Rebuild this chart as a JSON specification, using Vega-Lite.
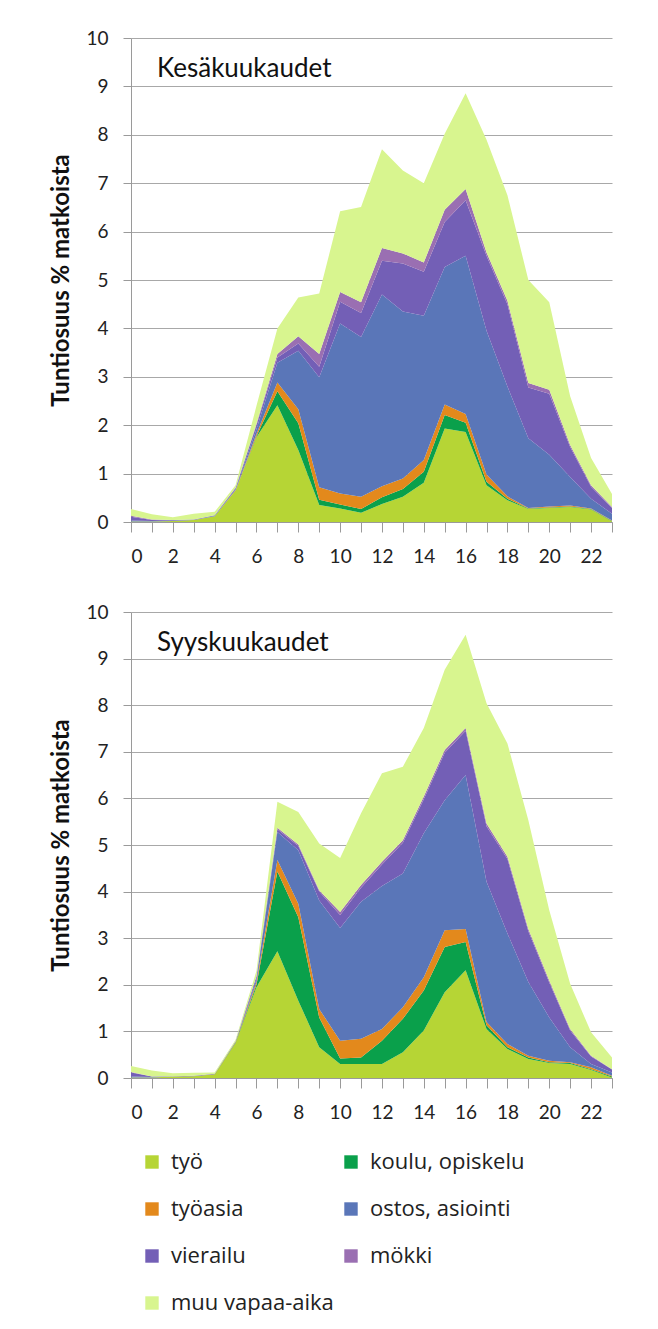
{
  "$schema": "https://vega.github.io/schema/vega-lite/v6.json",
  "background": "white",
  "padding": {"left": 49, "top": 29, "right": 0, "bottom": 40},
  "config": {
    "font": "Lato",
    "view": {"stroke": null},
    "axis": {
      "labelFont": "Lato",
      "labelFontSize": 19,
      "labelColor": "#222",
      "domainColor": "#9a9a9a",
      "tickColor": "#9a9a9a",
      "gridColor": "#a8a8a8",
      "titleFont": "Lato",
      "titleFontSize": 24,
      "titleFontWeight": "bold",
      "titleColor": "#111"
    },
    "title": {"font": "Lato", "fontSize": 26, "fontWeight": "normal", "color": "#111"},
    "legend": {
      "labelFont": "Open Sans",
      "labelFontSize": 22,
      "labelLimit": 300,
      "labelColor": "#222",
      "symbolType": "square",
      "symbolSize": 180,
      "symbolStrokeWidth": 0,
      "symbolOpacity": 1,
      "labelOffset": 8,
      "rowPadding": 25,
      "columnPadding": 6,
      "padding": 0
    }
  },
  "datasets": {
    "cats": [
      {"c":"työ","k":1},{"c":"koulu, opiskelu","k":2},{"c":"työasia","k":3},{"c":"ostos, asiointi","k":4},{"c":"vierailu","k":5},{"c":"mökki","k":6},{"c":"muu vapaa-aika","k":7}
    ],
    "kesa": [
      {"h":0,"c":"työ","v":0.01},{"h":0,"c":"koulu, opiskelu","v":0},{"h":0,"c":"työasia","v":0},{"h":0,"c":"ostos, asiointi","v":0.02},{"h":0,"c":"vierailu","v":0.08},{"h":0,"c":"mökki","v":0.02},{"h":0,"c":"muu vapaa-aika","v":0.14},
      {"h":1,"c":"työ","v":0.01},{"h":1,"c":"koulu, opiskelu","v":0},{"h":1,"c":"työasia","v":0},{"h":1,"c":"ostos, asiointi","v":0.01},{"h":1,"c":"vierailu","v":0.02},{"h":1,"c":"mökki","v":0.01},{"h":1,"c":"muu vapaa-aika","v":0.11},
      {"h":2,"c":"työ","v":0.02},{"h":2,"c":"koulu, opiskelu","v":0},{"h":2,"c":"työasia","v":0},{"h":2,"c":"ostos, asiointi","v":0.01},{"h":2,"c":"vierailu","v":0.01},{"h":2,"c":"mökki","v":0},{"h":2,"c":"muu vapaa-aika","v":0.06},
      {"h":3,"c":"työ","v":0.04},{"h":3,"c":"koulu, opiskelu","v":0},{"h":3,"c":"työasia","v":0},{"h":3,"c":"ostos, asiointi","v":0},{"h":3,"c":"vierailu","v":0.01},{"h":3,"c":"mökki","v":0},{"h":3,"c":"muu vapaa-aika","v":0.12},
      {"h":4,"c":"työ","v":0.12},{"h":4,"c":"koulu, opiskelu","v":0},{"h":4,"c":"työasia","v":0},{"h":4,"c":"ostos, asiointi","v":0.01},{"h":4,"c":"vierailu","v":0.01},{"h":4,"c":"mökki","v":0},{"h":4,"c":"muu vapaa-aika","v":0.07},
      {"h":5,"c":"työ","v":0.65},{"h":5,"c":"koulu, opiskelu","v":0},{"h":5,"c":"työasia","v":0.01},{"h":5,"c":"ostos, asiointi","v":0.02},{"h":5,"c":"vierailu","v":0.02},{"h":5,"c":"mökki","v":0.01},{"h":5,"c":"muu vapaa-aika","v":0.05},
      {"h":6,"c":"työ","v":1.75},{"h":6,"c":"koulu, opiskelu","v":0.02},{"h":6,"c":"työasia","v":0.05},{"h":6,"c":"ostos, asiointi","v":0.1},{"h":6,"c":"vierailu","v":0.08},{"h":6,"c":"mökki","v":0.03},{"h":6,"c":"muu vapaa-aika","v":0.37},
      {"h":7,"c":"työ","v":2.41},{"h":7,"c":"koulu, opiskelu","v":0.29},{"h":7,"c":"työasia","v":0.18},{"h":7,"c":"ostos, asiointi","v":0.41},{"h":7,"c":"vierailu","v":0.11},{"h":7,"c":"mökki","v":0.07},{"h":7,"c":"muu vapaa-aika","v":0.53},
      {"h":8,"c":"työ","v":1.49},{"h":8,"c":"koulu, opiskelu","v":0.55},{"h":8,"c":"työasia","v":0.29},{"h":8,"c":"ostos, asiointi","v":1.21},{"h":8,"c":"vierailu","v":0.15},{"h":8,"c":"mökki","v":0.15},{"h":8,"c":"muu vapaa-aika","v":0.8},
      {"h":9,"c":"työ","v":0.35},{"h":9,"c":"koulu, opiskelu","v":0.11},{"h":9,"c":"työasia","v":0.26},{"h":9,"c":"ostos, asiointi","v":2.27},{"h":9,"c":"vierailu","v":0.22},{"h":9,"c":"mökki","v":0.26},{"h":9,"c":"muu vapaa-aika","v":1.25},
      {"h":10,"c":"työ","v":0.28},{"h":10,"c":"koulu, opiskelu","v":0.08},{"h":10,"c":"työasia","v":0.23},{"h":10,"c":"ostos, asiointi","v":3.51},{"h":10,"c":"vierailu","v":0.45},{"h":10,"c":"mökki","v":0.2},{"h":10,"c":"muu vapaa-aika","v":1.67},
      {"h":11,"c":"työ","v":0.19},{"h":11,"c":"koulu, opiskelu","v":0.08},{"h":11,"c":"työasia","v":0.25},{"h":11,"c":"ostos, asiointi","v":3.3},{"h":11,"c":"vierailu","v":0.5},{"h":11,"c":"mökki","v":0.22},{"h":11,"c":"muu vapaa-aika","v":1.97},
      {"h":12,"c":"työ","v":0.37},{"h":12,"c":"koulu, opiskelu","v":0.14},{"h":12,"c":"työasia","v":0.23},{"h":12,"c":"ostos, asiointi","v":3.96},{"h":12,"c":"vierailu","v":0.7},{"h":12,"c":"mökki","v":0.26},{"h":12,"c":"muu vapaa-aika","v":2.04},
      {"h":13,"c":"työ","v":0.52},{"h":13,"c":"koulu, opiskelu","v":0.16},{"h":13,"c":"työasia","v":0.22},{"h":13,"c":"ostos, asiointi","v":3.45},{"h":13,"c":"vierailu","v":0.99},{"h":13,"c":"mökki","v":0.21},{"h":13,"c":"muu vapaa-aika","v":1.71},
      {"h":14,"c":"työ","v":0.81},{"h":14,"c":"koulu, opiskelu","v":0.23},{"h":14,"c":"työasia","v":0.24},{"h":14,"c":"ostos, asiointi","v":2.98},{"h":14,"c":"vierailu","v":0.91},{"h":14,"c":"mökki","v":0.19},{"h":14,"c":"muu vapaa-aika","v":1.64},
      {"h":15,"c":"työ","v":1.93},{"h":15,"c":"koulu, opiskelu","v":0.28},{"h":15,"c":"työasia","v":0.22},{"h":15,"c":"ostos, asiointi","v":2.84},{"h":15,"c":"vierailu","v":0.93},{"h":15,"c":"mökki","v":0.25},{"h":15,"c":"muu vapaa-aika","v":1.57},
      {"h":16,"c":"työ","v":1.86},{"h":16,"c":"koulu, opiskelu","v":0.19},{"h":16,"c":"työasia","v":0.18},{"h":16,"c":"ostos, asiointi","v":3.27},{"h":16,"c":"vierailu","v":1.15},{"h":16,"c":"mökki","v":0.23},{"h":16,"c":"muu vapaa-aika","v":1.98},
      {"h":17,"c":"työ","v":0.76},{"h":17,"c":"koulu, opiskelu","v":0.07},{"h":17,"c":"työasia","v":0.15},{"h":17,"c":"ostos, asiointi","v":2.97},{"h":17,"c":"vierailu","v":1.55},{"h":17,"c":"mökki","v":0.07},{"h":17,"c":"muu vapaa-aika","v":2.33},
      {"h":18,"c":"työ","v":0.45},{"h":18,"c":"koulu, opiskelu","v":0.03},{"h":18,"c":"työasia","v":0.05},{"h":18,"c":"ostos, asiointi","v":2.27},{"h":18,"c":"vierailu","v":1.7},{"h":18,"c":"mökki","v":0.07},{"h":18,"c":"muu vapaa-aika","v":2.18},
      {"h":19,"c":"työ","v":0.27},{"h":19,"c":"koulu, opiskelu","v":0.01},{"h":19,"c":"työasia","v":0.01},{"h":19,"c":"ostos, asiointi","v":1.44},{"h":19,"c":"vierailu","v":1.05},{"h":19,"c":"mökki","v":0.09},{"h":19,"c":"muu vapaa-aika","v":2.13},
      {"h":20,"c":"työ","v":0.29},{"h":20,"c":"koulu, opiskelu","v":0.01},{"h":20,"c":"työasia","v":0.02},{"h":20,"c":"ostos, asiointi","v":1.07},{"h":20,"c":"vierailu","v":1.26},{"h":20,"c":"mökki","v":0.08},{"h":20,"c":"muu vapaa-aika","v":1.81},
      {"h":21,"c":"työ","v":0.31},{"h":21,"c":"koulu, opiskelu","v":0.01},{"h":21,"c":"työasia","v":0.02},{"h":21,"c":"ostos, asiointi","v":0.59},{"h":21,"c":"vierailu","v":0.62},{"h":21,"c":"mökki","v":0.04},{"h":21,"c":"muu vapaa-aika","v":1.01},
      {"h":22,"c":"työ","v":0.26},{"h":22,"c":"koulu, opiskelu","v":0.01},{"h":22,"c":"työasia","v":0.01},{"h":22,"c":"ostos, asiointi","v":0.2},{"h":22,"c":"vierailu","v":0.25},{"h":22,"c":"mökki","v":0.03},{"h":22,"c":"muu vapaa-aika","v":0.56},
      {"h":23,"c":"työ","v":0.01},{"h":23,"c":"koulu, opiskelu","v":0.01},{"h":23,"c":"työasia","v":0.01},{"h":23,"c":"ostos, asiointi","v":0.14},{"h":23,"c":"vierailu","v":0.12},{"h":23,"c":"mökki","v":0.02},{"h":23,"c":"muu vapaa-aika","v":0.27}
    ],
    "syys": [
      {"h":0,"c":"työ","v":0.01},{"h":0,"c":"koulu, opiskelu","v":0},{"h":0,"c":"työasia","v":0},{"h":0,"c":"ostos, asiointi","v":0.02},{"h":0,"c":"vierailu","v":0.09},{"h":0,"c":"mökki","v":0.01},{"h":0,"c":"muu vapaa-aika","v":0.13},
      {"h":1,"c":"työ","v":0.01},{"h":1,"c":"koulu, opiskelu","v":0},{"h":1,"c":"työasia","v":0},{"h":1,"c":"ostos, asiointi","v":0.01},{"h":1,"c":"vierailu","v":0.01},{"h":1,"c":"mökki","v":0},{"h":1,"c":"muu vapaa-aika","v":0.13},
      {"h":2,"c":"työ","v":0.03},{"h":2,"c":"koulu, opiskelu","v":0},{"h":2,"c":"työasia","v":0},{"h":2,"c":"ostos, asiointi","v":0},{"h":2,"c":"vierailu","v":0.01},{"h":2,"c":"mökki","v":0},{"h":2,"c":"muu vapaa-aika","v":0.06},
      {"h":3,"c":"työ","v":0.04},{"h":3,"c":"koulu, opiskelu","v":0},{"h":3,"c":"työasia","v":0},{"h":3,"c":"ostos, asiointi","v":0},{"h":3,"c":"vierailu","v":0.01},{"h":3,"c":"mökki","v":0},{"h":3,"c":"muu vapaa-aika","v":0.06},
      {"h":4,"c":"työ","v":0.08},{"h":4,"c":"koulu, opiskelu","v":0},{"h":4,"c":"työasia","v":0},{"h":4,"c":"ostos, asiointi","v":0},{"h":4,"c":"vierailu","v":0.01},{"h":4,"c":"mökki","v":0},{"h":4,"c":"muu vapaa-aika","v":0.03},
      {"h":5,"c":"työ","v":0.75},{"h":5,"c":"koulu, opiskelu","v":0.01},{"h":5,"c":"työasia","v":0.01},{"h":5,"c":"ostos, asiointi","v":0.01},{"h":5,"c":"vierailu","v":0.01},{"h":5,"c":"mökki","v":0},{"h":5,"c":"muu vapaa-aika","v":0.03},
      {"h":6,"c":"työ","v":1.95},{"h":6,"c":"koulu, opiskelu","v":0.05},{"h":6,"c":"työasia","v":0.06},{"h":6,"c":"ostos, asiointi","v":0.06},{"h":6,"c":"vierailu","v":0.06},{"h":6,"c":"mökki","v":0.01},{"h":6,"c":"muu vapaa-aika","v":0.11},
      {"h":7,"c":"työ","v":2.72},{"h":7,"c":"koulu, opiskelu","v":1.71},{"h":7,"c":"työasia","v":0.25},{"h":7,"c":"ostos, asiointi","v":0.6},{"h":7,"c":"vierailu","v":0.06},{"h":7,"c":"mökki","v":0.03},{"h":7,"c":"muu vapaa-aika","v":0.56},
      {"h":8,"c":"työ","v":1.66},{"h":8,"c":"koulu, opiskelu","v":1.79},{"h":8,"c":"työasia","v":0.29},{"h":8,"c":"ostos, asiointi","v":1.15},{"h":8,"c":"vierailu","v":0.09},{"h":8,"c":"mökki","v":0.03},{"h":8,"c":"muu vapaa-aika","v":0.7},
      {"h":9,"c":"työ","v":0.66},{"h":9,"c":"koulu, opiskelu","v":0.64},{"h":9,"c":"työasia","v":0.18},{"h":9,"c":"ostos, asiointi","v":2.33},{"h":9,"c":"vierailu","v":0.19},{"h":9,"c":"mökki","v":0.03},{"h":9,"c":"muu vapaa-aika","v":1.0},
      {"h":10,"c":"työ","v":0.3},{"h":10,"c":"koulu, opiskelu","v":0.12},{"h":10,"c":"työasia","v":0.38},{"h":10,"c":"ostos, asiointi","v":2.42},{"h":10,"c":"vierailu","v":0.28},{"h":10,"c":"mökki","v":0.06},{"h":10,"c":"muu vapaa-aika","v":1.16},
      {"h":11,"c":"työ","v":0.3},{"h":11,"c":"koulu, opiskelu","v":0.14},{"h":11,"c":"työasia","v":0.4},{"h":11,"c":"ostos, asiointi","v":2.94},{"h":11,"c":"vierailu","v":0.3},{"h":11,"c":"mökki","v":0.06},{"h":11,"c":"muu vapaa-aika","v":1.54},
      {"h":12,"c":"työ","v":0.3},{"h":12,"c":"koulu, opiskelu","v":0.5},{"h":12,"c":"työasia","v":0.25},{"h":12,"c":"ostos, asiointi","v":3.07},{"h":12,"c":"vierailu","v":0.46},{"h":12,"c":"mökki","v":0.06},{"h":12,"c":"muu vapaa-aika","v":1.9},
      {"h":13,"c":"työ","v":0.55},{"h":13,"c":"koulu, opiskelu","v":0.72},{"h":13,"c":"työasia","v":0.25},{"h":13,"c":"ostos, asiointi","v":2.87},{"h":13,"c":"vierailu","v":0.66},{"h":13,"c":"mökki","v":0.05},{"h":13,"c":"muu vapaa-aika","v":1.58},
      {"h":14,"c":"työ","v":1.02},{"h":14,"c":"koulu, opiskelu","v":0.86},{"h":14,"c":"työasia","v":0.28},{"h":14,"c":"ostos, asiointi","v":3.09},{"h":14,"c":"vierailu","v":0.73},{"h":14,"c":"mökki","v":0.06},{"h":14,"c":"muu vapaa-aika","v":1.47},
      {"h":15,"c":"työ","v":1.84},{"h":15,"c":"koulu, opiskelu","v":0.97},{"h":15,"c":"työasia","v":0.36},{"h":15,"c":"ostos, asiointi","v":2.79},{"h":15,"c":"vierailu","v":1.02},{"h":15,"c":"mökki","v":0.06},{"h":15,"c":"muu vapaa-aika","v":1.72},
      {"h":16,"c":"työ","v":2.31},{"h":16,"c":"koulu, opiskelu","v":0.61},{"h":16,"c":"työasia","v":0.28},{"h":16,"c":"ostos, asiointi","v":3.3},{"h":16,"c":"vierailu","v":0.95},{"h":16,"c":"mökki","v":0.06},{"h":16,"c":"muu vapaa-aika","v":2.0},
      {"h":17,"c":"työ","v":1.05},{"h":17,"c":"koulu, opiskelu","v":0.08},{"h":17,"c":"työasia","v":0.07},{"h":17,"c":"ostos, asiointi","v":3.01},{"h":17,"c":"vierailu","v":1.19},{"h":17,"c":"mökki","v":0.06},{"h":17,"c":"muu vapaa-aika","v":2.58},
      {"h":18,"c":"työ","v":0.62},{"h":18,"c":"koulu, opiskelu","v":0.04},{"h":18,"c":"työasia","v":0.07},{"h":18,"c":"ostos, asiointi","v":2.37},{"h":18,"c":"vierailu","v":1.6},{"h":18,"c":"mökki","v":0.05},{"h":18,"c":"muu vapaa-aika","v":2.43},
      {"h":19,"c":"työ","v":0.41},{"h":19,"c":"koulu, opiskelu","v":0.03},{"h":19,"c":"työasia","v":0.04},{"h":19,"c":"ostos, asiointi","v":1.58},{"h":19,"c":"vierailu","v":1.09},{"h":19,"c":"mökki","v":0.05},{"h":19,"c":"muu vapaa-aika","v":2.33},
      {"h":20,"c":"työ","v":0.32},{"h":20,"c":"koulu, opiskelu","v":0.02},{"h":20,"c":"työasia","v":0.03},{"h":20,"c":"ostos, asiointi","v":0.93},{"h":20,"c":"vierailu","v":0.75},{"h":20,"c":"mökki","v":0.04},{"h":20,"c":"muu vapaa-aika","v":1.51},
      {"h":21,"c":"työ","v":0.3},{"h":21,"c":"koulu, opiskelu","v":0.02},{"h":21,"c":"työasia","v":0.02},{"h":21,"c":"ostos, asiointi","v":0.32},{"h":21,"c":"vierailu","v":0.36},{"h":21,"c":"mökki","v":0.03},{"h":21,"c":"muu vapaa-aika","v":0.97},
      {"h":22,"c":"työ","v":0.17},{"h":22,"c":"koulu, opiskelu","v":0.02},{"h":22,"c":"työasia","v":0.04},{"h":22,"c":"ostos, asiointi","v":0.07},{"h":22,"c":"vierailu","v":0.16},{"h":22,"c":"mökki","v":0.02},{"h":22,"c":"muu vapaa-aika","v":0.5},
      {"h":23,"c":"työ","v":0.01},{"h":23,"c":"koulu, opiskelu","v":0.02},{"h":23,"c":"työasia","v":0.02},{"h":23,"c":"ostos, asiointi","v":0.07},{"h":23,"c":"vierailu","v":0.06},{"h":23,"c":"mökki","v":0.01},{"h":23,"c":"muu vapaa-aika","v":0.25}
    ]
  },
  "spacing": 37,
  "vconcat": [
    {
      "width": 481,
      "height": 484,
      "data": {"name": "kesa"},
      "transform": [{"lookup": "c", "from": {"data": {"name": "cats"}, "key": "c", "fields": ["k"]}}],
      "title": {"text": "Kesäkuukaudet", "anchor": "start", "orient": "top", "offset": -53, "dx": 26, "frame": "group"},
      "mark": {"type": "area", "interpolate": "linear"},
      "encoding": {
        "x": {"field": "h", "type": "quantitative", "scale": {"domain": [0, 23], "nice": false, "zero": false},
          "axis": {"title": null, "grid": false, "values": [0,1,2,3,4,5,6,7,8,9,10,11,12,13,14,15,16,17,18,19,20,21,22,23], "labelExpr": "datum.value % 2 == 0 ? datum.label : ''", "tickSize": 10, "labelPadding": 15, "labelFontSize": 19}},
        "y": {"field": "v", "type": "quantitative", "stack": "zero", "scale": {"domain": [0, 10], "nice": false},
          "axis": {"title": "Tuntiosuus % matkoista", "values": [0,1,2,3,4,5,6,7,8,9,10], "grid": true, "tickSize": 8, "labelPadding": 15, "titlePadding": 12}},
        "order": {"field": "k", "type": "quantitative", "sort": "ascending"},
        "color": {"field": "c", "type": "nominal",
          "sort": ["työ","koulu, opiskelu","työasia","ostos, asiointi","vierailu","mökki","muu vapaa-aika"],
          "scale": {"domain": ["työ","koulu, opiskelu","työasia","ostos, asiointi","vierailu","mökki","muu vapaa-aika"],
                    "range": ["#b6d535","#0aa04b","#e3891c","#5a76b8","#735fb6","#9a6fb2","#d8f58f"]},
          "legend": {"title": null, "orient": "none", "direction": "horizontal", "columns": 2, "legendX": 10, "legendY": 1113}}
      }
    },
    {
      "width": 481,
      "height": 466,
      "data": {"name": "syys"},
      "transform": [{"lookup": "c", "from": {"data": {"name": "cats"}, "key": "c", "fields": ["k"]}}],
      "title": {"text": "Syyskuukaudet", "anchor": "start", "orient": "top", "offset": -53, "dx": 26, "frame": "group"},
      "mark": {"type": "area", "interpolate": "linear"},
      "encoding": {
        "x": {"field": "h", "type": "quantitative", "scale": {"domain": [0, 23], "nice": false, "zero": false},
          "axis": {"title": null, "grid": false, "values": [0,1,2,3,4,5,6,7,8,9,10,11,12,13,14,15,16,17,18,19,20,21,22,23], "labelExpr": "datum.value % 2 == 0 ? datum.label : ''", "tickSize": 10, "labelPadding": 15, "labelFontSize": 19}},
        "y": {"field": "v", "type": "quantitative", "stack": "zero", "scale": {"domain": [0, 10], "nice": false},
          "axis": {"title": "Tuntiosuus % matkoista", "values": [0,1,2,3,4,5,6,7,8,9,10], "grid": true, "tickSize": 8, "labelPadding": 15, "titlePadding": 12}},
        "order": {"field": "k", "type": "quantitative", "sort": "ascending"},
        "color": {"field": "c", "type": "nominal",
          "sort": ["työ","koulu, opiskelu","työasia","ostos, asiointi","vierailu","mökki","muu vapaa-aika"],
          "scale": {"domain": ["työ","koulu, opiskelu","työasia","ostos, asiointi","vierailu","mökki","muu vapaa-aika"],
                    "range": ["#b6d535","#0aa04b","#e3891c","#5a76b8","#735fb6","#9a6fb2","#d8f58f"]},
          "legend": {"title": null, "orient": "none", "direction": "horizontal", "columns": 2, "legendX": 10, "legendY": 1113}}
      }
    }
  ]
}
